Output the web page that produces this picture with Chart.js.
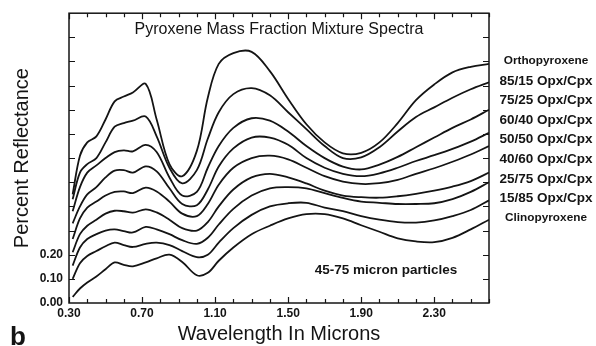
<!DOCTYPE html>
<html>
<head>
<meta charset="utf-8">
<script src="https://cdn.jsdelivr.net/npm/chart.js@4/dist/chart.umd.min.js"></script>
<style>
  body { margin: 0; background: #fff; }
</style>
</head>
<body>
<canvas id="myChart" width="596" height="346"></canvas>
<script>
'use strict';
// wavelength in microns, shared by all spectra
var wavelengths=[0.32,0.36,0.40,0.45,0.50,0.55,0.60,0.65,0.72,0.78,0.85,0.92,1.00,1.06,1.12,1.20,1.30,1.40,1.50,1.60,1.70,1.80,1.90,2.00,2.10,2.20,2.30,2.40,2.50,2.60];

var seriesNames=['Orthopyroxene','85/15 Opx/Cpx','75/25 Opx/Cpx','60/40 Opx/Cpx','50/50 Opx/Cpx','40/60 Opx/Cpx','25/75 Opx/Cpx','15/85 Opx/Cpx','Clinopyroxene'];

var opx=[0.45,0.61,0.665,0.69,0.76,0.835,0.855,0.872,0.907,0.76,0.575,0.525,0.63,0.85,0.99,1.035,1.04,0.96,0.845,0.74,0.665,0.62,0.622,0.665,0.745,0.84,0.905,0.955,0.978,0.99];
var mix8515=[0.43,0.54,0.575,0.60,0.665,0.73,0.745,0.755,0.772,0.69,0.56,0.495,0.55,0.68,0.79,0.865,0.89,0.86,0.79,0.72,0.65,0.60,0.603,0.645,0.71,0.77,0.81,0.85,0.885,0.914];
var mix7525=[0.38,0.48,0.54,0.57,0.60,0.625,0.632,0.628,0.655,0.625,0.52,0.445,0.46,0.56,0.65,0.725,0.765,0.755,0.71,0.65,0.60,0.565,0.553,0.573,0.605,0.645,0.685,0.725,0.76,0.80];
var mix6040=[0.33,0.40,0.45,0.48,0.52,0.548,0.55,0.54,0.566,0.545,0.475,0.41,0.405,0.47,0.565,0.64,0.685,0.685,0.655,0.60,0.56,0.535,0.525,0.537,0.56,0.588,0.612,0.638,0.668,0.705];
var mix5050=[0.265,0.35,0.395,0.42,0.445,0.46,0.462,0.455,0.478,0.462,0.42,0.37,0.36,0.41,0.49,0.56,0.60,0.61,0.595,0.56,0.525,0.503,0.493,0.496,0.51,0.535,0.558,0.585,0.615,0.65];
var mix4060=[0.21,0.285,0.32,0.345,0.37,0.382,0.38,0.374,0.388,0.375,0.345,0.31,0.30,0.335,0.40,0.47,0.52,0.535,0.52,0.495,0.465,0.445,0.438,0.436,0.442,0.452,0.465,0.482,0.505,0.54];
var mix2575=[0.155,0.23,0.265,0.285,0.30,0.305,0.298,0.292,0.315,0.305,0.285,0.26,0.245,0.27,0.325,0.39,0.445,0.475,0.48,0.475,0.455,0.435,0.42,0.415,0.41,0.41,0.413,0.43,0.46,0.50];
var mix1585=[0.10,0.165,0.195,0.215,0.235,0.25,0.24,0.232,0.245,0.25,0.24,0.215,0.19,0.20,0.25,0.31,0.365,0.40,0.413,0.415,0.395,0.38,0.36,0.345,0.335,0.333,0.342,0.36,0.385,0.425];
var cpx=[0.025,0.06,0.085,0.11,0.14,0.168,0.158,0.152,0.168,0.185,0.20,0.17,0.115,0.125,0.175,0.23,0.285,0.32,0.35,0.368,0.368,0.35,0.322,0.295,0.268,0.255,0.252,0.27,0.305,0.345];

var seriesValues=[opx,mix8515,mix7525,mix6040,mix5050,mix4060,mix2575,mix1585,cpx];

var xTickLabels=[0.30,0.70,1.10,1.50,1.90,2.30];
var yTickLabels=[0.00,0.10,0.20];

var fontName='"Liberation Sans", Arial, sans-serif';
var ink='#141414';

// inward ticks, frame and the free text of the figure
var frameAndText={
  id:'frameAndText',
  afterDatasetsDraw:function(chart){
    var ctx=chart.ctx;
    var a=chart.chartArea;
    var xs=chart.scales.x;
    var ys=chart.scales.y;
    ctx.save();
    ctx.strokeStyle=ink;
    ctx.lineWidth=1.5;
    ctx.strokeRect(a.left,a.top,a.right-a.left,a.bottom-a.top);
    ctx.lineWidth=1.2;
    ctx.beginPath();
    for(var i=0;i<=23;i++){
      var px=Math.round(xs.getPixelForValue(0.3+i*0.1))+0.5;
      var len=(i%4===0)?6:4;
      ctx.moveTo(px,a.bottom);ctx.lineTo(px,a.bottom-len);
      ctx.moveTo(px,a.top);ctx.lineTo(px,a.top+len);
    }
    for(var j=1;j<12;j++){
      var py=Math.round(ys.getPixelForValue(j*0.1))+0.5;
      ctx.moveTo(a.left,py);ctx.lineTo(a.left+6,py);
      ctx.moveTo(a.right,py);ctx.lineTo(a.right-6,py);
    }
    ctx.stroke();

    ctx.fillStyle=ink;
    ctx.textAlign='center';
    ctx.textBaseline='middle';
    ctx.font='16px '+fontName;
    ctx.fillText('Pyroxene Mass Fraction Mixture Spectra',(a.left+a.right)/2,a.top+16);
    ctx.font='bold 13.5px '+fontName;
    ctx.fillText('45-75 micron particles',a.left+317,a.bottom-33);
    for(var k=0;k<seriesNames.length;k++){
      ctx.font=(k===0||k===seriesNames.length-1)?'bold 11.8px '+fontName:'bold 13.5px '+fontName;
      ctx.fillText(seriesNames[k],a.right+57,a.top+48+k*19.6);
    }
    ctx.textAlign='left';
    ctx.textBaseline='alphabetic';
    ctx.font='bold 26px '+fontName;
    ctx.fillText('b',10,chart.height-1);
    ctx.restore();
  }
};

var datasets=[];
for(var s=0;s<seriesValues.length;s++){
  var pts=[];
  for(var p=0;p<wavelengths.length;p++){
    pts.push({x:wavelengths[p],y:seriesValues[s][p]});
  }
  datasets.push({
    label:seriesNames[s],
    data:pts,
    borderColor:ink,
    borderWidth:1.8,
    pointRadius:0,
    tension:0.35,
    fill:false
  });
}

var ctx=document.getElementById('myChart').getContext('2d');
var chart=new Chart(ctx,{
  type:'line',
  data:{datasets:datasets},
  options:{
    responsive:false,
    animation:false,
    devicePixelRatio:1,
    layout:{padding:{top:11,right:107,left:0,bottom:0}},
    plugins:{legend:{display:false},tooltip:{enabled:false}},
    scales:{
      x:{
        type:'linear',
        min:0.3,
        max:2.6,
        afterFit:function(scale){scale.height=43;},
        afterBuildTicks:function(scale){scale.ticks=xTickLabels.map(function(v){return {value:v};});},
        grid:{display:false,drawTicks:false},
        border:{display:false},
        ticks:{
          padding:3,
          color:ink,
          font:{family:fontName,size:12,weight:'bold'},
          maxRotation:0,
          callback:function(v){return v.toFixed(2);}
        },
        title:{display:true,text:'Wavelength In Microns',color:ink,font:{family:fontName,size:20},padding:{top:0,bottom:0}}
      },
      y:{
        type:'linear',
        min:0,
        max:1.2,
        afterFit:function(scale){scale.width=69;},
        afterBuildTicks:function(scale){scale.ticks=yTickLabels.map(function(v){return {value:v};});},
        grid:{display:false,drawTicks:false},
        border:{display:false},
        ticks:{
          padding:6,
          color:ink,
          font:{family:fontName,size:12,weight:'bold'},
          callback:function(v){return v.toFixed(2);}
        },
        title:{display:true,text:'Percent Reflectance',color:ink,font:{family:fontName,size:20},padding:{top:10,bottom:0}}
      }
    }
  },
  plugins:[frameAndText]
});
</script>
</body>
</html>
